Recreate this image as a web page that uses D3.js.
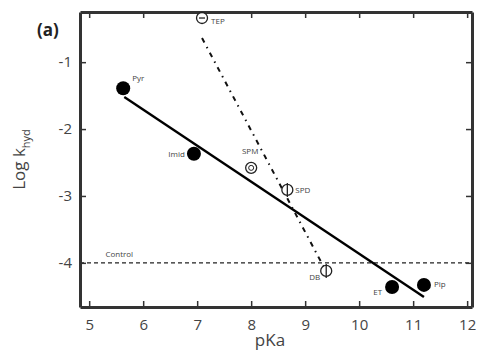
<!DOCTYPE html>
<html>
<head>
<meta charset="utf-8">
<script src="https://cdn.jsdelivr.net/npm/d3@7"></script>
<style>
  body { margin: 0; background: #fff; }
  svg { font-family: "Open Sans", "DejaVu Sans", sans-serif; }
</style>
</head>
<body>
<div id="graph"></div>
<script>
// data
const names = ["Pyr", "Imid", "SPM", "SPD", "TEP", "DB", "ET", "Pip"];
const pka = [5.63, 6.94, 8.0, 8.67, 7.09, 9.39, 10.61, 11.2];
const logk = [-1.39, -2.37, -2.58, -2.91, -0.34, -4.12, -4.36, -4.33];
const filled = [true, true, false, false, false, false, true, true];
const symbols = ["", "", "ring", "bar", "dash", "bar", "", ""];
const fitX = [5.65, 11.2];
const fitY = [-1.52, -4.51];
const fit2X = [7.09, 9.37];
const fit2Y = [-0.64, -4.1];
const controlLevel = -4;
const xTicks = [5, 6, 7, 8, 9, 10, 11, 12];
const yTicks = [-1, -2, -3, -4];

const margin = {top: 12, right: 6, bottom: 49, left: 80},
    width = 478 - margin.left - margin.right,
    height = 356 - margin.top - margin.bottom;

const x = d3.scaleLinear().domain([4.83, 12.09]).range([0, width]);
const y = d3.scaleLinear().domain([-4.66, -0.25]).range([height, 0]);

const svg = d3.select("#graph")
    .append("svg")
    .attr("width", 478)
    .attr("height", 356);

const g = svg.append("g")
    .attr("transform", "translate(" + margin.left + "," + margin.top + ")");

// control line
g.append("line")
    .attr("x1", 0).attr("x2", width)
    .attr("y1", y(controlLevel)).attr("y2", y(controlLevel))
    .attr("stroke", "#222").attr("stroke-width", 1.3)
    .attr("stroke-dasharray", "4,3");
g.append("text")
    .attr("x", x(5.3)).attr("y", y(controlLevel) - 6)
    .attr("font-size", 8).attr("fill", "#444")
    .text("Control");

// fits
g.append("line")
    .attr("x1", x(fitX[0])).attr("y1", y(fitY[0]))
    .attr("x2", x(fitX[1])).attr("y2", y(fitY[1]))
    .attr("stroke", "#000").attr("stroke-width", 2.4);
g.append("line")
    .attr("x1", x(fit2X[0])).attr("y1", y(fit2Y[0]))
    .attr("x2", x(fit2X[1])).attr("y2", y(fit2Y[1]))
    .attr("stroke", "#111").attr("stroke-width", 2)
    .attr("stroke-dasharray", "5,5,1.5,5");

// axes box with ticks on every side
const fmt = function(d) { return String(d); };
const axB = g.append("g").attr("transform", "translate(0," + height + ")")
    .call(d3.axisBottom(x).tickValues(xTicks).tickFormat(fmt).tickSizeInner(-6).tickSizeOuter(0).tickPadding(12));
const axT = g.append("g")
    .call(d3.axisTop(x).tickValues(xTicks).tickSizeInner(-6).tickSizeOuter(0).tickFormat(""));
const axL = g.append("g")
    .call(d3.axisLeft(y).tickValues(yTicks).tickFormat(fmt).tickSizeInner(-6).tickSizeOuter(0).tickPadding(8));
const axR = g.append("g").attr("transform", "translate(" + width + ",0)")
    .call(d3.axisRight(y).tickValues(yTicks).tickSizeInner(-6).tickSizeOuter(0).tickFormat(""));
[axB, axT, axL, axR].forEach(function(a) {
    a.select(".domain").attr("stroke", "#333").attr("stroke-width", 3);
    a.selectAll(".tick line").attr("stroke", "#333").attr("stroke-width", 1.5);
    a.selectAll("text").attr("font-size", 15).attr("fill", "#444")
        .attr("font-family", "Open Sans, DejaVu Sans, sans-serif");
});

// points
const pts = g.selectAll(".pt")
    .data(names.map(function(n, i) { return {name: n, x: pka[i], y: logk[i], f: filled[i], s: symbols[i]}; }))
    .enter().append("g")
    .attr("class", "pt")
    .attr("transform", function(d) { return "translate(" + x(d.x) + "," + y(d.y) + ")"; });

pts.append("circle")
    .attr("r", function(d) { return d.f ? 7 : 5.5; })
    .attr("fill", function(d) { return d.f ? "#000" : "#fff"; })
    .attr("stroke", "#222")
    .attr("stroke-width", function(d) { return d.f ? 0 : 1.3; });
pts.filter(function(d) { return d.s === "ring"; }).append("circle")
    .attr("r", 2.5).attr("fill", "none").attr("stroke", "#222").attr("stroke-width", 1);
pts.filter(function(d) { return d.s === "bar"; }).append("line")
    .attr("x1", 0).attr("x2", 0).attr("y1", -7).attr("y2", 7)
    .attr("stroke", "#222").attr("stroke-width", 1.3);
pts.filter(function(d) { return d.s === "dash"; }).append("line")
    .attr("x1", -3).attr("x2", 3).attr("y1", 0).attr("y2", 0)
    .attr("stroke", "#222").attr("stroke-width", 1.3);

// point labels
const labelOff = {
    Pyr: [9, -7, "start"], Imid: [-9, 3, "end"], SPM: [-1, -14, "middle"],
    SPD: [8, 3, "start"], TEP: [9, 6, "start"], DB: [-6, 9, "end"],
    ET: [-10, 8, "end"], Pip: [10, 2, "start"]
};
pts.append("text")
    .attr("x", function(d) { return labelOff[d.name][0]; })
    .attr("y", function(d) { return labelOff[d.name][1]; })
    .attr("text-anchor", function(d) { return labelOff[d.name][2]; })
    .attr("font-size", 8).attr("fill", "#444")
    .text(function(d) { return d.name; });

// titles
svg.append("text")
    .attr("x", 37).attr("y", 36)
    .attr("font-size", 17).attr("font-weight", "bold").attr("fill", "#222")
    .text("(a)");
svg.append("text")
    .attr("x", margin.left + width / 2 - 6).attr("y", 346)
    .attr("text-anchor", "middle").attr("font-size", 17).attr("fill", "#444")
    .text("pKa");
const yl = svg.append("text")
    .attr("transform", "translate(25," + (margin.top + height / 2) + ") rotate(-90)")
    .attr("text-anchor", "middle").attr("font-size", 17).attr("fill", "#444");
yl.append("tspan").text("Log k");
yl.append("tspan").attr("font-size", 11).attr("dy", 5).text("hyd");
</script>
</body>
</html>
